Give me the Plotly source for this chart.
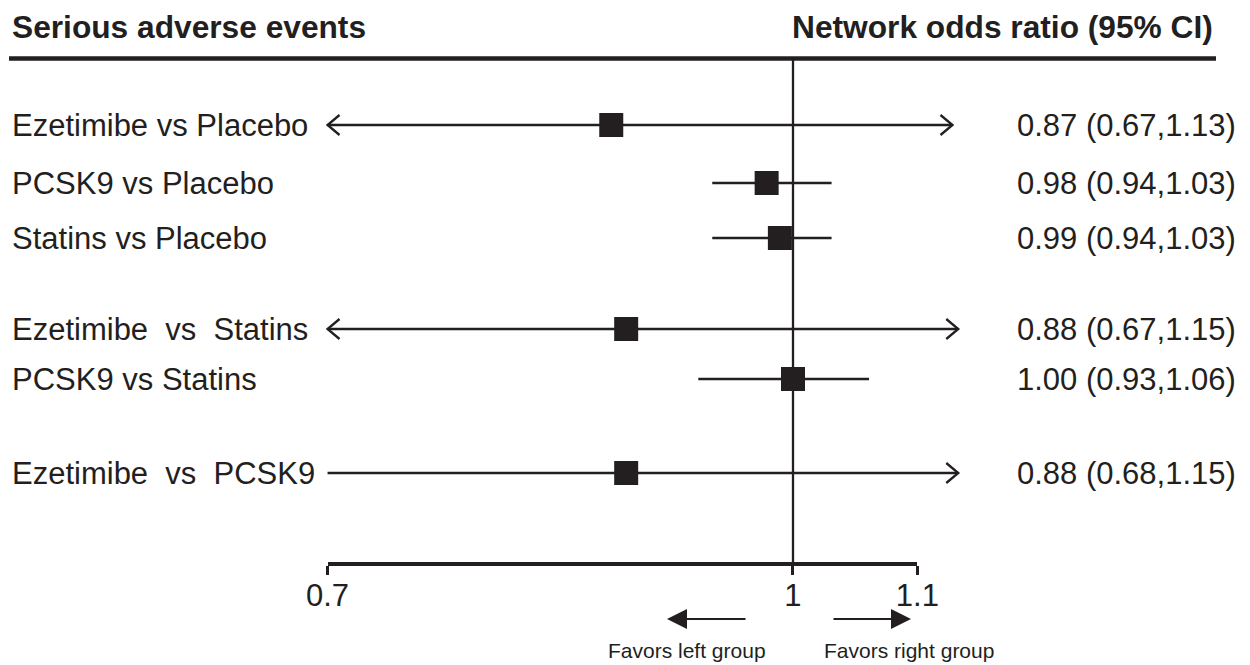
import numpy as np
import plotly.graph_objects as go

# ---------------- data ----------------
comparisons = [
    "Ezetimibe vs Placebo",
    "PCSK9 vs Placebo",
    "Statins vs Placebo",
    "Ezetimibe\u00a0 vs\u00a0 Statins",
    "PCSK9 vs Statins",
    "Ezetimibe\u00a0 vs\u00a0 PCSK9",
]
odds_ratio = [0.87, 0.98, 0.99, 0.88, 1.00, 0.88]
ci_low = [0.67, 0.94, 0.94, 0.67, 0.93, 0.68]
ci_high = [1.13, 1.03, 1.03, 1.15, 1.06, 1.15]
# truncation arrowheads as drawn in the source figure
left_arrow = [True, False, False, True, False, False]
tick_values = [0.7, 1.0, 1.1]
tick_labels = ["0.7", "1", "1.1"]

# ---------------- layout constants ----------------
W, H = 1250, 665
INK = "#231f20"
FONT = "Liberation Sans, Arial, Helvetica, sans-serif"
K = 1305.0            # pixels per ln-unit
X_REF = 793.0         # pixel position of OR = 1
ROW_Y = [125, 183, 238, 329, 379, 473]   # vertical placement of rows (pixels from top)
AXIS_Y = 562
SHOW_LO, SHOW_HI = 0.70, 1.135   # visible window for CI lines

def px(p):
    return p / W

x_range = [-X_REF / K, (W - X_REF) / K]
fig = go.Figure()

# CI lines, chevrons and point estimates
for i in range(len(comparisons)):
    y = ROW_Y[i]
    lo = max(ci_low[i], SHOW_LO)
    hi = min(ci_high[i], SHOW_HI)
    fig.add_trace(go.Scatter(
        x=np.log([lo, hi]), y=[y, y], mode="lines",
        line=dict(color=INK, width=2.3), hoverinfo="skip"))
    dx = 12.0 / K
    if left_arrow[i]:
        t = np.log(lo)
        fig.add_trace(go.Scatter(
            x=[t + dx, t, t + dx], y=[y - 10, y, y + 10], mode="lines",
            line=dict(color=INK, width=2.3), hoverinfo="skip"))
    if ci_high[i] > tick_values[-1]:
        t = np.log(hi)
        fig.add_trace(go.Scatter(
            x=[t - dx, t, t - dx], y=[y - 10, y, y + 10], mode="lines",
            line=dict(color=INK, width=2.3), hoverinfo="skip"))

fig.add_trace(go.Scatter(
    x=np.log(odds_ratio), y=ROW_Y, mode="markers",
    marker=dict(symbol="square", size=24, color=INK, line=dict(width=0)),
    hoverinfo="skip"))

# invisible trace so that the odds-ratio axis subplot is created
fig.add_trace(go.Scatter(
    x=np.log(tick_values), y=[0.5] * len(tick_values), xaxis="x2", yaxis="y2",
    mode="markers", marker=dict(opacity=0), hoverinfo="skip"))

annotations = []
# headers
annotations.append(dict(xref="paper", yref="y", x=px(10), y=27, xanchor="left",
                        yanchor="middle", showarrow=False,
                        text="<b>Serious adverse events</b>",
                        font=dict(family=FONT, size=31.7, color=INK)))
annotations.append(dict(xref="paper", yref="y", x=px(1215), y=27, xanchor="right",
                        yanchor="middle", showarrow=False,
                        text="<b>Network odds ratio (95% CI)</b>",
                        font=dict(family=FONT, size=31.7, color=INK)))
# row labels and values
for i, name in enumerate(comparisons):
    annotations.append(dict(xref="paper", yref="y", x=px(10), y=ROW_Y[i],
                            xanchor="left", yanchor="middle", showarrow=False,
                            text=name, font=dict(family=FONT, size=31, color=INK)))
    annotations.append(dict(xref="paper", yref="y", x=px(1238), y=ROW_Y[i],
                            xanchor="right", yanchor="middle", showarrow=False,
                            text=f"{odds_ratio[i]:.2f} ({ci_low[i]:.2f},{ci_high[i]:.2f})",
                            font=dict(family=FONT, size=31, color=INK)))
# favors arrows + text
annotations.append(dict(xref="paper", yref="y", x=px(667), y=619, ax=80, ay=0,
                        axref="pixel", ayref="pixel", text="", showarrow=True,
                        arrowhead=2, arrowsize=2.0, arrowwidth=2, arrowcolor=INK))
annotations.append(dict(xref="paper", yref="y", x=px(911), y=619, ax=-79, ay=0,
                        axref="pixel", ayref="pixel", text="", showarrow=True,
                        arrowhead=2, arrowsize=2.0, arrowwidth=2, arrowcolor=INK))
annotations.append(dict(xref="paper", yref="y", x=px(687), y=650, xanchor="center",
                        yanchor="middle", showarrow=False, text="Favors left group",
                        font=dict(family=FONT, size=21, color=INK)))
annotations.append(dict(xref="paper", yref="y", x=px(909), y=650, xanchor="center",
                        yanchor="middle", showarrow=False, text="Favors right group",
                        font=dict(family=FONT, size=21, color=INK)))

shapes = [
    # header rule
    dict(type="line", xref="paper", yref="y", x0=px(9), x1=px(1216), y0=58.5, y1=58.5,
         line=dict(color=INK, width=4.5)),
    # line of no effect
    dict(type="line", xref="x", yref="y", x0=0, x1=0, y0=59, y1=AXIS_Y,
         line=dict(color=INK, width=2.3), layer="below"),
]

ax_lo = np.log(tick_values[0])
ax_hi = np.log(tick_values[-1])
dom_lo = (X_REF + K * ax_lo) / W
dom_hi = (X_REF + K * ax_hi) / W

fig.update_layout(
    width=W, height=H,
    margin=dict(l=0, r=0, t=0, b=0, pad=0, autoexpand=False),
    paper_bgcolor="white", plot_bgcolor="rgba(0,0,0,0)",
    showlegend=False,
    xaxis=dict(range=x_range, visible=False, domain=[0, 1], automargin=False),
    yaxis=dict(range=[H, 0], visible=False, domain=[0, 1], automargin=False),
    xaxis2=dict(domain=[dom_lo, dom_hi], anchor="y2",
                range=[ax_lo - 1e-9, ax_hi + 1e-9],
                tickvals=np.log(tick_values), ticktext=tick_labels,
                showline=True, linecolor=INK, linewidth=3.5,
                ticks="outside", ticklen=9, tickwidth=3, tickcolor=INK,
                ticklabelstandoff=-6,
                showgrid=False, zeroline=False, automargin=False,
                tickfont=dict(family=FONT, size=31, color=INK)),
    yaxis2=dict(domain=[(H - AXIS_Y) / H, (H - AXIS_Y + 8) / H], anchor="x2",
                range=[0, 1], visible=False, automargin=False),
    annotations=annotations,
    shapes=shapes,
)

fig.write_html("out.html")
